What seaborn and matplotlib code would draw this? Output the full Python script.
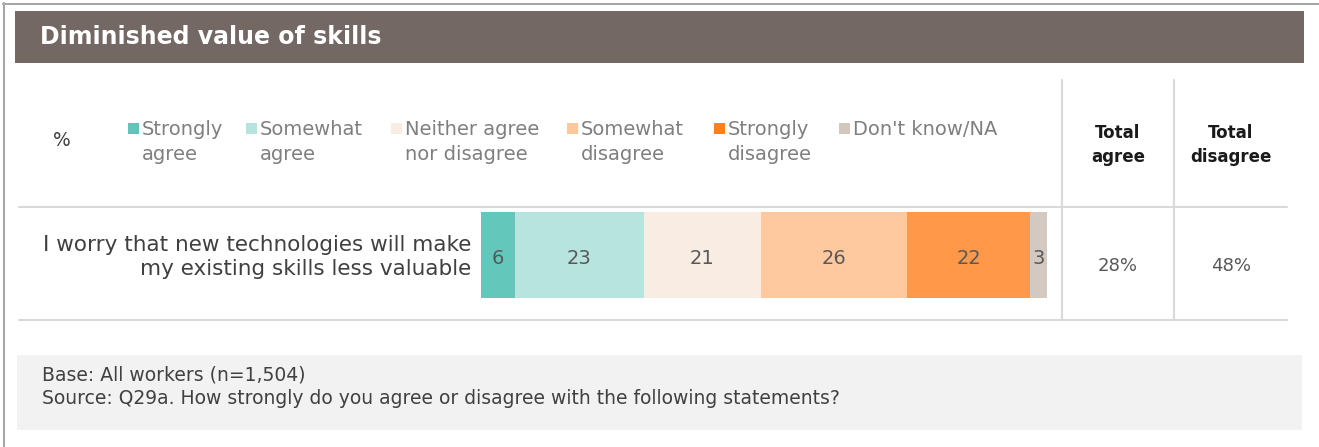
import matplotlib
matplotlib.use("Agg")
import matplotlib.pyplot as plt
from matplotlib.patches import Rectangle
from matplotlib.lines import Line2D
import numpy as np
import pandas as pd
import seaborn as sns

# ---- data ----
title = "Diminished value of skills"
statement = "I worry that new technologies will make\nmy existing skills less valuable"
categories = ["Strongly\nagree", "Somewhat\nagree", "Neither agree\nnor disagree",
              "Somewhat\ndisagree", "Strongly\ndisagree", "Don't know/NA"]
values = [6, 23, 21, 26, 22, 3]
colors = ["#63C7BC", "#B7E4DF", "#F8ECE3", "#FFC9A0", "#FF9848", "#D3C9C0"]
legend_colors = ["#5FC4B9", "#B5E3DE", "#F8ECE3", "#FFC79C", "#FF8019", "#D1C7BE"]
total_agree = "28%"
total_disagree = "48%"
col_headers = ["Total\nagree", "Total\ndisagree"]
footer_lines = ["Base: All workers (n=1,504)",
                "Source: Q29a. How strongly do you agree or disagree with the following statements?"]

sns.set_theme(style="white")
plt.rcParams['font.family'] = ['DejaVu Sans']

W, H = 1319, 447
fig = plt.figure(figsize=(W / 100, H / 100), dpi=100)
fig.patch.set_facecolor("white")

def fx(px):
    return px / W

def fy(py):
    return 1 - py / H

def hline(y, x0, x1, color, lw=1.0):
    fig.add_artist(Line2D([fx(x0), fx(x1)], [fy(y), fy(y)], color=color, lw=lw,
                          transform=fig.transFigure))

def vline(x, y0, y1, color, lw=1.0):
    fig.add_artist(Line2D([fx(x), fx(x)], [fy(y0), fy(y1)], color=color, lw=lw,
                          transform=fig.transFigure))

def rect(x0, y0, x1, y1, color):
    fig.add_artist(Rectangle((fx(x0), fy(y1)), fx(x1) - fx(x0), fy(y0) - fy(y1),
                             facecolor=color, edgecolor="none", transform=fig.transFigure,
                             zorder=0))

# outer border (top + left)
hline(4, 3, 1319, "#A6A6A6", 1.5)
vline(4, 3, 447, "#A6A6A6", 1.5)

# title banner
rect(15, 11, 1304, 63, "#736864")
fig.text(fx(40), fy(37), title, color="white", fontsize=17, fontweight="bold",
         va="center", ha="left")

# table lines
hline(207, 19, 1287, "#D9D9D9", 1.5)
hline(320, 19, 1287, "#D9D9D9", 1.5)
vline(1062, 80, 320, "#D9D9D9", 1.5)
vline(1174, 80, 320, "#D9D9D9", 1.5)

# legend row
fig.text(fx(62), fy(141), "%", color="#404040", fontsize=13.5, ha="center", va="center")
legend_x = [128, 246, 391, 567, 714, 839]
for lx, lab, c in zip(legend_x, categories, legend_colors):
    rect(lx, 123, lx + 11, 134, c)
    fig.text(fx(lx + 14), fy(120), lab, color="#7F7F7F", fontsize=14,
             ha="left", va="top", linespacing=1.37)

# column headers
fig.text(fx(1118), fy(145), col_headers[0], color="#1A1A1A", fontsize=12,
         fontweight="bold", ha="center", va="center", linespacing=1.5)
fig.text(fx(1231), fy(145), col_headers[1], color="#1A1A1A", fontsize=12,
         fontweight="bold", ha="center", va="center", linespacing=1.5)

# statement
fig.text(fx(471), fy(257), statement, color="#404040", fontsize=15.5,
         ha="right", va="center", multialignment="right", linespacing=1.3)

# totals
fig.text(fx(1118), fy(266), total_agree, color="#595959", fontsize=13,
         ha="center", va="center")
fig.text(fx(1231), fy(266), total_disagree, color="#595959", fontsize=13,
         ha="center", va="center")

# stacked bar via seaborn (cumulative totals drawn back-to-front)
ax = fig.add_axes([fx(481), fy(298), fx(1047) - fx(481), fy(212) - fy(298)])
cum = np.cumsum(values)
starts = cum - np.array(values)
for i in range(len(values) - 1, -1, -1):
    df = pd.DataFrame({"value": [cum[i]], "row": ["r"]})
    sns.barplot(data=df, x="value", y="row", orient="h", color=colors[i],
                width=1.0, saturation=1, ax=ax, edgecolor="none", linewidth=0)
for s, v in zip(starts, values):
    ax.text(s + v / 2, 0.04, str(v), color="#595959", fontsize=14, ha="center", va="center")
ax.set_xlim(0, cum[-1])
ax.set_ylim(0.5, -0.5)
ax.axis("off")

# footer box
rect(17, 355, 1302, 430, "#F2F2F2")
fig.text(fx(42), fy(375), footer_lines[0], color="#404040", fontsize=13.5,
         ha="left", va="center")
fig.text(fx(42), fy(398), footer_lines[1], color="#404040", fontsize=13.5,
         ha="left", va="center")

fig.savefig("out.png", dpi=100, facecolor="white")
